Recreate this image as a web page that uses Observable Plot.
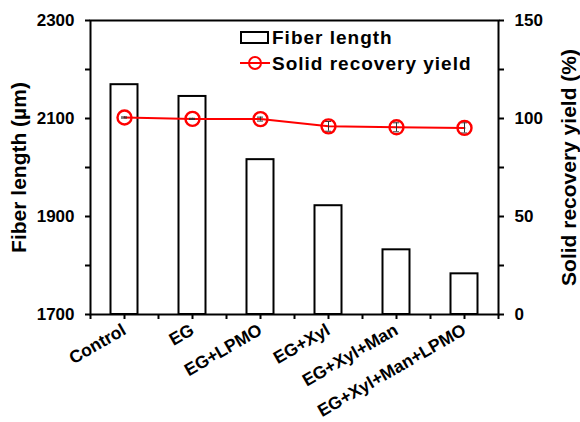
<!DOCTYPE html>
<html>
<head>
<meta charset="utf-8">
<script src="https://cdn.jsdelivr.net/npm/d3@7"></script>
<script src="https://cdn.jsdelivr.net/npm/@observablehq/plot@0.6"></script>
<style>
  html, body { margin: 0; padding: 0; background: #fff; }
  #wrap { position: relative; width: 580px; height: 422px; font-family: "Liberation Sans", Arial, sans-serif; font-weight: bold; }
  .leg { position: absolute; font-size: 19px; letter-spacing: 1px; color: #000; line-height: 1; white-space: nowrap; }
</style>
</head>
<body>
<div id="wrap"></div>
<script>
// ---- data ----
const categories = ["Control", "EG", "EG+LPMO", "EG+Xyl", "EG+Xyl+Man", "EG+Xyl+Man+LPMO"];
const fiberLength = [2169, 2145, 2016, 1922, 1832, 1783];
const recoveryYield = [100.5, 99.8, 99.7, 96.0, 95.5, 95.2];
const recoveryErr = [0.3, 0.3, 1.0, 2.5, 2.3, 2.6];
const leftTicks = [1700, 1800, 1900, 2000, 2100, 2200, 2300];
const leftLabels = [1700, 1900, 2100, 2300];
const rightTicks = [0, 25, 50, 75, 100, 125, 150];
const rightLabels = [0, 50, 100, 150];

// ---- layout ----
const W = 580, H = 422;
const mL = 90, mR = 82, mT = 20, mB = 108;
const yDomain = [leftTicks[0], leftTicks[leftTicks.length - 1]];
const rDomain = [rightTicks[0], rightTicks[rightTicks.length - 1]];
const toLeft = v => yDomain[0] + (v - rDomain[0]) * (yDomain[1] - yDomain[0]) / (rDomain[1] - rDomain[0]);
const fromLeft = y => rDomain[0] + (y - yDomain[0]) * (rDomain[1] - rDomain[0]) / (yDomain[1] - yDomain[0]);
const band = (W - mL - mR) / categories.length;

const rows = categories.map((c, i) => ({
  cat: c, fiber: fiberLength[i], yld: recoveryYield[i], err: recoveryErr[i]
}));

const axisStyle = { fontSize: 17, fontWeight: "bold" };

const chart = Plot.plot({
  width: W, height: H,
  marginLeft: mL, marginRight: mR, marginTop: mT, marginBottom: mB,
  style: { fontFamily: "Liberation Sans, Arial, sans-serif", fontWeight: "bold", background: "white", color: "black" },
  x: { domain: categories, padding: 0 },
  y: { domain: yDomain },
  marks: [
    Plot.barY(rows, { x: "cat", y1: yDomain[0], y2: "fiber", fill: "white", stroke: "black", strokeWidth: 2, insetLeft: 20.5, insetRight: 20.5 }),
    Plot.line(rows, { x: "cat", y: d => toLeft(d.yld), stroke: "#ff0000", strokeWidth: 2 }),
    Plot.ruleX(rows, { x: "cat", y1: d => toLeft(d.yld - d.err), y2: d => toLeft(d.yld + d.err), stroke: "#333", strokeWidth: 1 }),
    Plot.tickY(rows, { x: "cat", y: d => toLeft(d.yld - d.err), stroke: "#333", strokeWidth: 1, insetLeft: band / 2 - 3, insetRight: band / 2 - 3 }),
    Plot.tickY(rows, { x: "cat", y: d => toLeft(d.yld + d.err), stroke: "#333", strokeWidth: 1, insetLeft: band / 2 - 3, insetRight: band / 2 - 3 }),
    Plot.dot(rows, { x: "cat", y: d => toLeft(d.yld), r: 7, stroke: "#ff0000", strokeWidth: 2.4, fill: "none" }),
    Plot.frame({ stroke: "black", strokeWidth: 2 }),
    Plot.axisY({ anchor: "left", ticks: leftTicks, tickSize: 5, tickPadding: 11, strokeWidth: 2,
      tickFormat: d => leftLabels.includes(d) ? String(d) : "", label: null, ...axisStyle }),
    Plot.axisY({ anchor: "left", ticks: [], label: "Fiber length (µm)", labelAnchor: "center", labelArrow: "none",
      labelOffset: 79, fontSize: 21, fontWeight: "bold" }),
    Plot.axisY({ anchor: "right", ticks: rightTicks.map(toLeft), tickSize: 5, tickPadding: 11, strokeWidth: 2,
      tickFormat: d => { const v = Math.round(fromLeft(d)); return rightLabels.includes(v) ? String(v) : ""; },
      label: null, ...axisStyle }),
    Plot.axisY({ anchor: "right", ticks: [], label: "Solid recovery yield (%)", labelAnchor: "center", labelArrow: "none",
      labelOffset: 77, fontSize: 21, fontWeight: "bold" }),
    Plot.axisX({ ticks: categories, tickSize: 5, tickRotate: -30, tickPadding: 9, strokeWidth: 2, label: null, fontSize: 17.5, fontWeight: "bold" }),
    Plot.axisX({ ticks: categories, tickSize: 5, strokeWidth: 2, tickFormat: () => "", label: null, dx: -band / 2 }),
    Plot.axisX({ ticks: categories.slice(-1), tickSize: 5, strokeWidth: 2, tickFormat: () => "", label: null, dx: band / 2 })
  ]
});

const wrap = document.getElementById("wrap");
wrap.appendChild(chart);

// ---- legend (inside plot area) ----
const leg1box = document.createElement("div");
leg1box.style.cssText = "position:absolute;left:240px;top:31px;width:25px;height:9px;border:2px solid #000;background:#fff;";
wrap.appendChild(leg1box);
const leg1 = document.createElement("div");
leg1.className = "leg";
leg1.style.cssText += "left:272px;top:28px;";
leg1.textContent = "Fiber length";
wrap.appendChild(leg1);

const leg2sym = document.createElementNS("http://www.w3.org/2000/svg", "svg");
leg2sym.setAttribute("width", "32"); leg2sym.setAttribute("height", "18");
leg2sym.style.cssText = "position:absolute;left:239px;top:54px;";
leg2sym.innerHTML = '<line x1="1" y1="9" x2="31" y2="9" stroke="#ff0000" stroke-width="2"/><circle cx="16" cy="9" r="6" fill="none" stroke="#ff0000" stroke-width="2"/>';
wrap.appendChild(leg2sym);
const leg2 = document.createElement("div");
leg2.className = "leg";
leg2.style.cssText += "left:272px;top:54px;";
leg2.textContent = "Solid recovery yield";
wrap.appendChild(leg2);
</script>
</body>
</html>
